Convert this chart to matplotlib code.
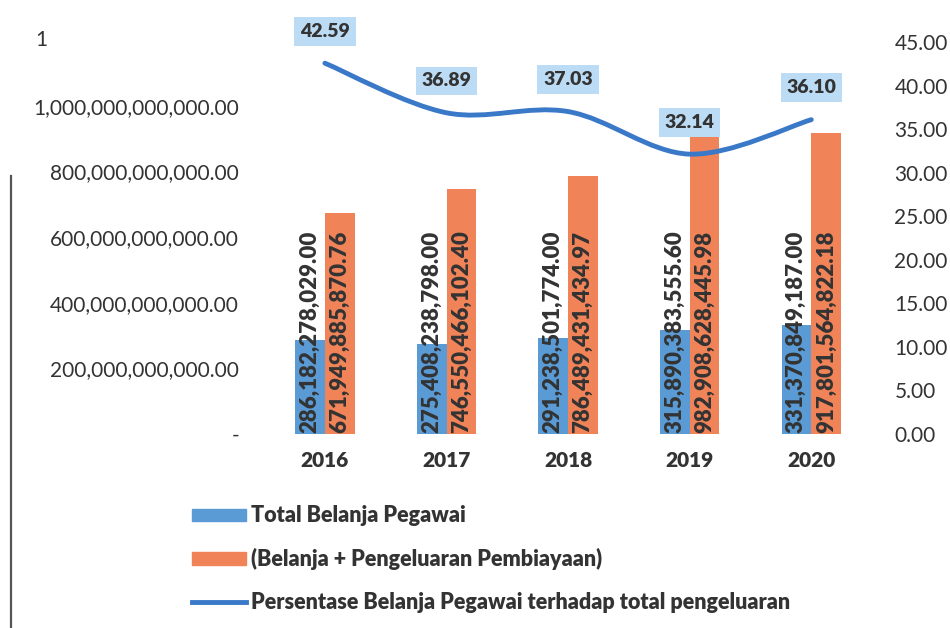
import matplotlib.pyplot as plt
import numpy as np
from matplotlib.path import Path
from matplotlib.patches import PathPatch, Patch
from matplotlib.lines import Line2D
from matplotlib.ticker import FuncFormatter
from matplotlib.transforms import blended_transform_factory

tahun = ['2016', '2017', '2018', '2019', '2020']
belanja_pegawai = [286182278029.00, 275408238798.00, 291238501774.00,
                   315890383555.60, 331370849187.00]
total_pengeluaran = [671949885870.76, 746550466102.40, 786489431434.97,
                     982908628445.98, 917801564822.18]
persentase = [42.59, 36.89, 37.03, 32.14, 36.10]

label_blue = 'Total Belanja Pegawai'
label_orange = '(Belanja + Pengeluaran Pembiayaan)'
label_line = 'Persentase Belanja Pegawai terhadap total pengeluaran'

c_blue = '#5b9bd5'
c_orange = '#f08458'
c_line = '#3a78c8'
c_box = '#bcdcf5'
c_text = '#333333'

plt.rcParams['font.family'] = ['Lato', 'DejaVu Sans']

fig = plt.figure(figsize=(9.5, 6.28), dpi=100)
ax = fig.add_axes([0.278, 0.309, 0.64, 0.627])
ax2 = ax.twinx()

x = np.arange(len(tahun))
w = 0.245
ax.bar(x - w / 2, belanja_pegawai, w, color=c_blue, zorder=2)
ax.bar(x + w / 2, total_pengeluaran, w, color=c_orange, zorder=2)

# nilai di dalam batang, diputar vertikal
for i in range(len(tahun)):
    ax.text(x[i] - w / 2, 4e9, f'{belanja_pegawai[i]:,.2f}', rotation=90,
            ha='center', va='bottom', fontsize=16, fontweight='heavy', color=c_text)
    ax.text(x[i] + w / 2, 4e9, f'{total_pengeluaran[i]:,.2f}', rotation=90,
            ha='center', va='bottom', fontsize=16, fontweight='heavy', color=c_text)

ax.set_xlim(-0.5, len(tahun) - 0.5)
ax.set_ylim(0, 1.2e12)
ax.set_yticks(np.arange(0, 1.2e12 + 1, 2e11))


def fmt_kiri(v, pos):
    if v == 0:
        return '-'
    if v > 1.1e12:
        return ''
    return f'{v:,.2f}'


ax.yaxis.set_major_formatter(FuncFormatter(fmt_kiri))
ax.set_xticks(x)
ax.set_xticklabels(tahun, fontsize=15, fontweight='heavy', color=c_text)
ax.tick_params(axis='y', length=0, pad=18, labelsize=15, labelcolor=c_text)
ax.tick_params(axis='x', length=0, pad=12)

# label teratas sumbu kiri terpotong, rata kiri
tr = blended_transform_factory(fig.transFigure, ax.transData)
ax.text(0.037, 1.2e12, '1', transform=tr, ha='left', va='center',
        fontsize=15, color=c_text)

# garis persentase dihaluskan dengan kurva Bezier
pts = np.column_stack([x, persentase]).astype(float)
ext = np.vstack([pts[0], pts, pts[-1]])
verts = [tuple(pts[0])]
codes = [Path.MOVETO]
for i in range(len(pts) - 1):
    p0, p1, p2, p3 = ext[i], ext[i + 1], ext[i + 2], ext[i + 3]
    c1 = p1 + (p2 - p0) / 6
    c2 = p2 - (p3 - p1) / 6
    verts += [tuple(c1), tuple(c2), tuple(p2)]
    codes += [Path.CURVE4] * 3
ax2.add_patch(PathPatch(Path(verts, codes), fill=False, edgecolor=c_line,
                        lw=3.5, capstyle='round', zorder=3))

for i, v in enumerate(persentase):
    ax2.annotate(f'{v:.2f}', (x[i], v), xytext=(0, 23), textcoords='offset points',
                 ha='center', va='center', fontsize=14, fontweight='heavy', color=c_text,
                 bbox=dict(boxstyle='square,pad=0.3', fc=c_box, ec='none'), zorder=4)

ax2.set_ylim(0, 45.23)
ax2.set_yticks(np.arange(0, 46, 5))
ax2.yaxis.set_major_formatter(FuncFormatter(lambda v, p: f'{v:.2f}'))
ax2.tick_params(axis='y', length=0, pad=16, labelsize=15, labelcolor=c_text)

for a in (ax, ax2):
    for s in a.spines.values():
        s.set_visible(False)

handles = [Patch(color=c_blue), Patch(color=c_orange),
           Line2D([], [], color=c_line, lw=3.5)]
fig.legend(handles, [label_blue, label_orange, label_line], loc='upper left',
           bbox_to_anchor=(0.182, 0.226), frameon=False, handlelength=2.5,
           handleheight=0.5, handletextpad=0.25, labelspacing=1.0,
           prop={'size': 15.5, 'weight': 'heavy'}, labelcolor=c_text)

# garis vertikal di tepi kiri
fig.add_artist(Line2D([0.012, 0.012], [0.0, 0.72], color='#555555', lw=1.6))

fig.savefig('out.png', dpi=100)
